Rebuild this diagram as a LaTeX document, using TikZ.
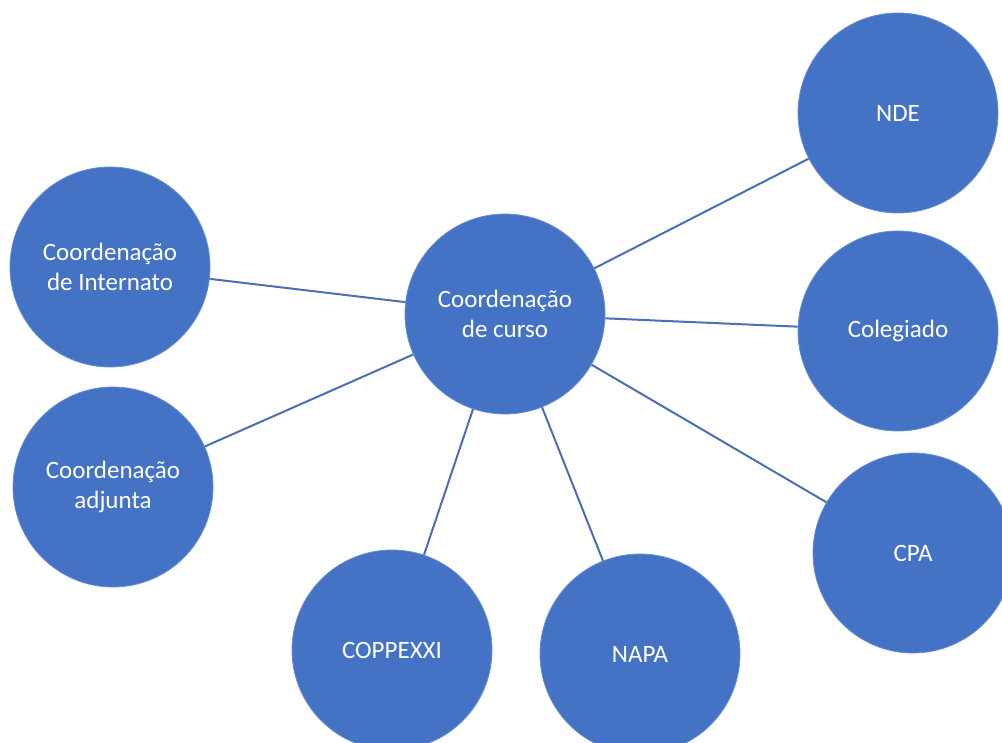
\documentclass[tikz,border=0pt]{standalone}
\usepackage{fontspec}
\setmainfont{Carlito}
\definecolor{cfill}{HTML}{4472C4}
\definecolor{cline}{HTML}{4A6FB5}
\begin{document}
\begin{tikzpicture}[x=1pt,y=-1pt,
  bubble/.style={circle,fill=cfill,draw=cfill!80!white,line width=0.8pt,minimum size=200pt,inner sep=0pt,
    text=white,align=center,font=\fontsize{25}{30}\selectfont},
  link/.style={draw=cline,line width=2pt}]
\useasboundingbox (0,0) rectangle (1002,743);
\begin{scope}
\clip (0,0) rectangle (1002,743);
\node[bubble] (c) at (505,314) {Coordenação\\de curso};
\node[bubble] (nde) at (898,113) {NDE};
\node[bubble] (col) at (898,331) {Colegiado};
\node[bubble] (cpa) at (913,553) {CPA};
\node[bubble] (napa) at (640,654) {NAPA};
\node[bubble] (cop) at (392,650) {COPPEXXI};
\node[bubble] (adj) at (113,487) {Coordenação\\adjunta};
\node[bubble] (int) at (110,267) {Coordenação\\de Internato};
\foreach \t in {nde,col,cpa,napa,cop,adj,int}
  \draw[link] (c) -- (\t);
\end{scope}
\end{tikzpicture}
\end{document}
